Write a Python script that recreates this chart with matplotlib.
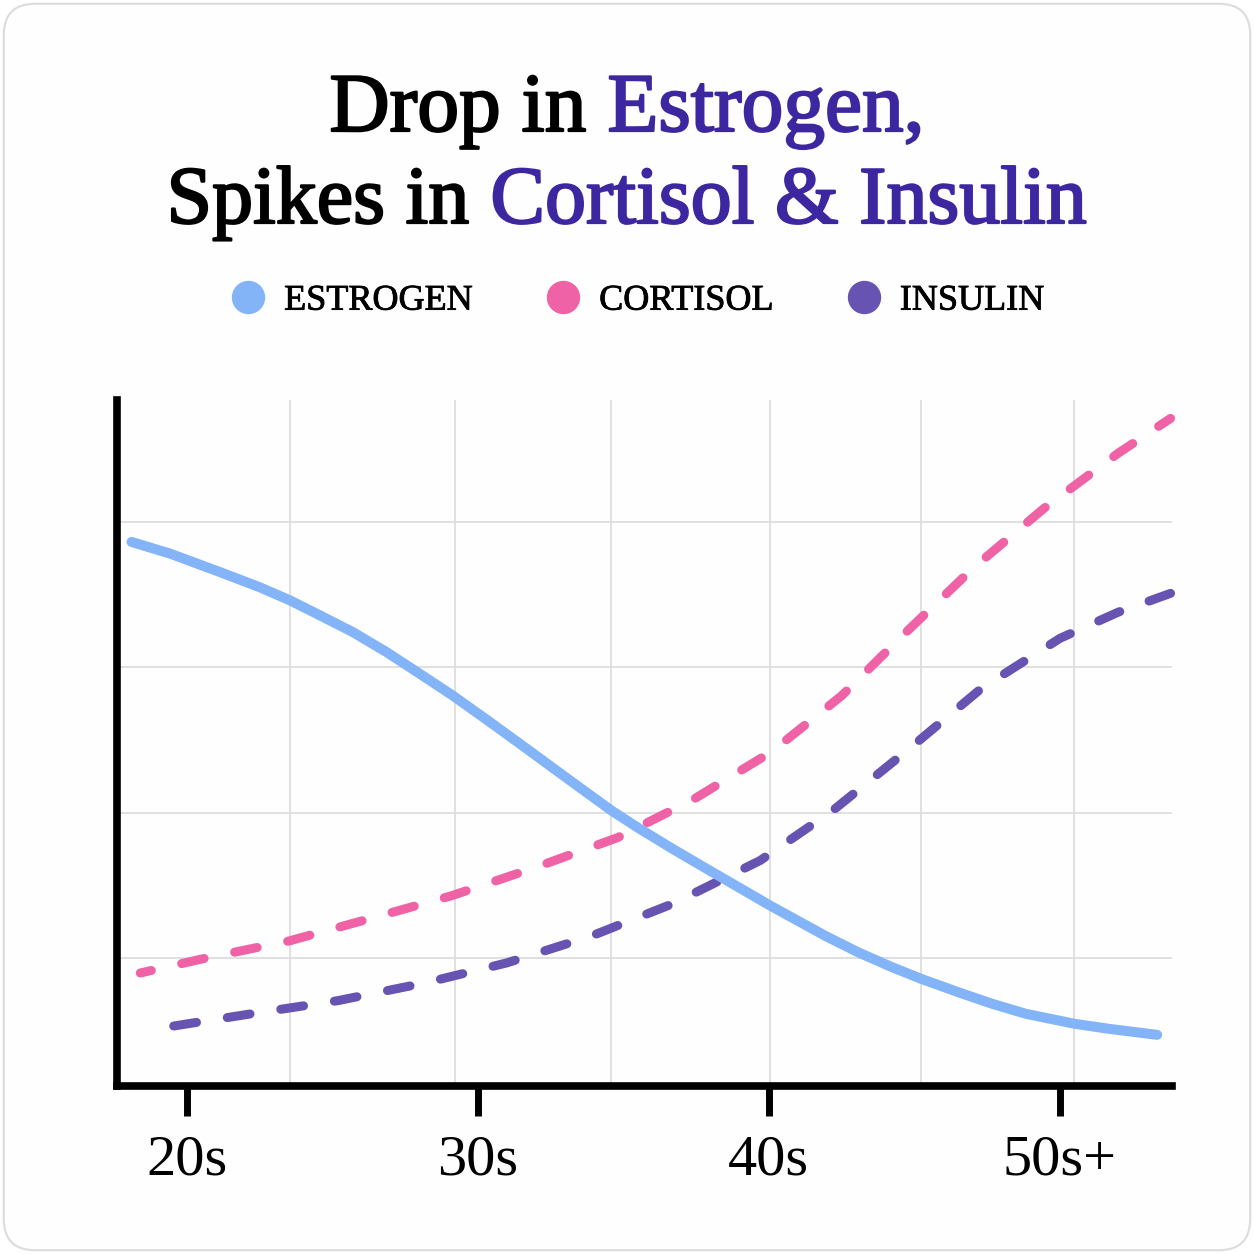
import matplotlib
matplotlib.use('Agg')
import matplotlib.pyplot as plt
import matplotlib.patheffects as pe
from matplotlib.lines import Line2D
from matplotlib.patches import FancyBboxPatch

serif = 'Liberation Serif'

# age axis in years, level in arbitrary units
estrogen_x = [18.10, 19.42, 21.13, 22.51, 23.54, 24.57, 25.70, 26.86, 28.00, 29.13,
              30.29, 31.43, 33.25, 34.59, 35.55, 36.68, 37.85, 38.98, 40.05, 40.80,
              41.96, 43.10, 44.24, 45.23, 46.54, 47.67, 48.83, 50.51, 51.69, 53.34]
estrogen_y = [77.28, 75.68, 73.14, 71.03, 69.24, 67.17, 64.87, 62.11, 59.13, 56.14,
              52.83, 49.52, 44.18, 40.28, 37.79, 35.03, 32.28, 29.66, 27.17, 25.52,
              22.97, 20.69, 18.69, 17.10, 15.21, 13.66, 12.28, 10.90, 10.21, 9.38]

cortisol_x = [18.4, 20.7, 23.5, 26.3, 29.1, 31.95, 34.8, 37.4, 40.1, 42.5, 44.7, 47.05, 49.45, 52.0, 53.8]
cortisol_y = [17.9, 20.0, 22.3, 25.4, 28.55, 32.4, 36.55, 41.8, 48.4, 56.1, 64.8, 73.8, 81.9, 89.5, 94.3]

insulin_x = [19.55, 22.4, 25.2, 28.2, 31.0, 33.9, 36.7, 39.7, 42.2, 44.75, 47.3, 50.0, 52.0, 53.8]
insulin_y = [10.6, 12.4, 14.1, 16.55, 19.3, 23.0, 27.45, 33.4, 40.3, 48.55, 57.1, 64.0, 67.6, 70.2]

age_ticks = [20, 30, 40, 50]
age_labels = ['20s', '30s', '40s', '50s+']
grid_x = [23.54, 29.2, 34.59, 40.05, 45.23, 50.48]
grid_y = [20, 40, 60, 80]

series_names = ['ESTROGEN', 'CORTISOL', 'INSULIN']
colors = ['#82b4f7', '#ef62a6', '#6753b2']
accent = '#3d27a0'

fig = plt.figure(figsize=(12.54, 12.54), dpi=100)
fig.patch.set_facecolor('white')
card = FancyBboxPatch((0.003, 0.003), 0.994, 0.994,
                      boxstyle='round,pad=0,rounding_size=0.025',
                      transform=fig.transFigure, fc='#fefefe', ec='#dcdcdc', lw=1.5,
                      zorder=-10)
fig.patches.append(card)

ax = fig.add_axes([0.0933, 0.1340, 0.8413, 0.5470])
ax.set_facecolor('none')

for gx in grid_x:
    ax.axvline(gx, color='#dddddd', lw=1.3, zorder=0)
for gy in grid_y:
    ax.axhline(gy, color='#dddddd', lw=1.3, zorder=0)

ax.plot(estrogen_x, estrogen_y, color=colors[0], lw=7.2, solid_capstyle='round',
        solid_joinstyle='round', zorder=3, clip_on=False)
ax.plot(cortisol_x, cortisol_y, color=colors[1], lw=6.5, ls=(1.3, (2.55, 3.45)),
        dash_capstyle='round', dash_joinstyle='round', zorder=2, clip_on=False)
ax.plot(insulin_x, insulin_y, color=colors[2], lw=6.5, ls=(0, (2.55, 3.45)),
        dash_capstyle='round', dash_joinstyle='round', zorder=2, clip_on=False)

ax.set_xlim(17.6, 53.85)
ax.set_ylim(2.34, 96.83)

for s in ['top', 'right']:
    ax.spines[s].set_visible(False)
for s in ['left', 'bottom']:
    ax.spines[s].set_linewidth(5.5)
    ax.spines[s].set_color('black')

ax.set_yticks([])
ax.set_xticks(age_ticks)
ax.set_xticklabels(age_labels, fontsize=42, family=serif)
ax.tick_params(axis='x', length=21.6, width=5, direction='out', pad=13, color='black')

# legend
handles = [Line2D([0], [0], marker='o', ls='', ms=23, mfc=c, mec=c) for c in colors]
leg = fig.legend(handles, series_names, loc='center', bbox_to_anchor=(0.508, 1 - 301 / 1254),
                 ncol=3, frameon=False, prop={'family': serif, 'size': 26},
                 handlelength=1.0, handletextpad=0.5, columnspacing=2.0)
for t in leg.get_texts():
    t.set_path_effects([pe.withStroke(linewidth=0.6, foreground='black')])

# two-colour title lines
r = fig.canvas.get_renderer()
W = fig.bbox.width
heavy = lambda c: [pe.withStroke(linewidth=1.6, foreground=c)]


def title_line(y, black, colored, size):
    full = fig.text(0.5, y, black + ' ' + colored, ha='center', va='baseline',
                    fontsize=size, family=serif)
    bb = full.get_window_extent(r)
    full.remove()
    col = fig.text(0, y, colored, ha='left', va='baseline', fontsize=size,
                   family=serif, color=accent, path_effects=heavy(accent))
    wc = col.get_window_extent(r).width
    col.set_x((bb.x1 - wc) / W)
    fig.text(bb.x0 / W, y, black, ha='left', va='baseline', fontsize=size,
             family=serif, color='black', path_effects=heavy('black'))


title_line(1 - 131 / 1254, 'Drop in', 'Estrogen,', 60)
title_line(1 - 223 / 1254, 'Spikes in', 'Cortisol & Insulin', 59)

plt.savefig('out.png', dpi=100)
